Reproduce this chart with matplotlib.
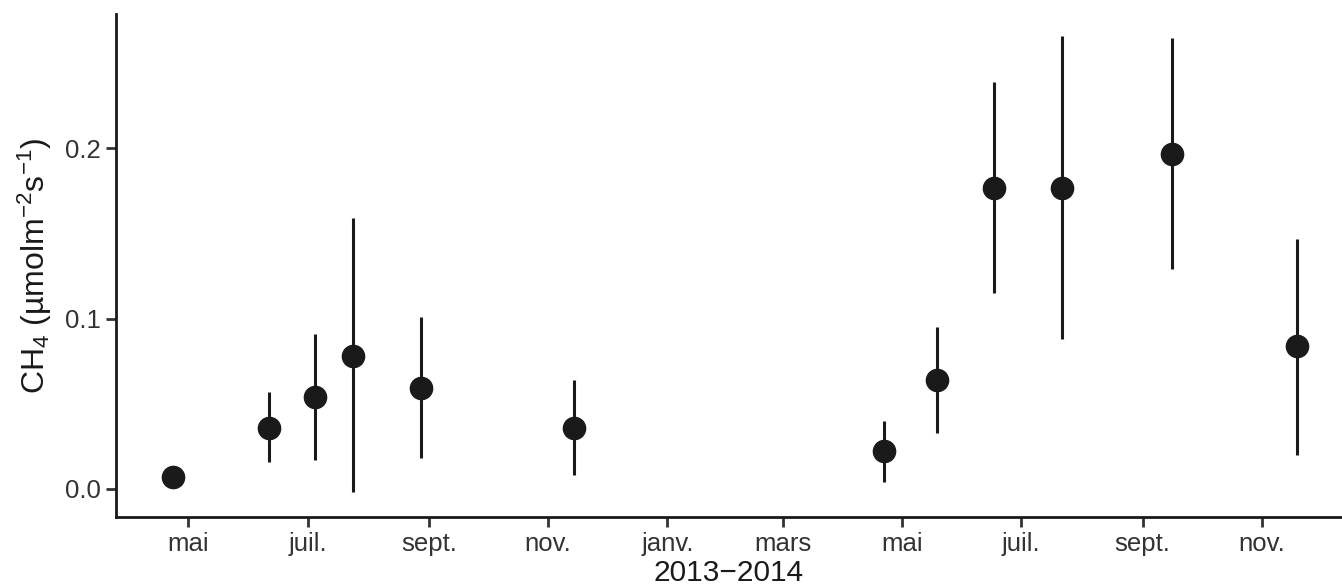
import matplotlib
matplotlib.use("Agg")
import matplotlib.pyplot as plt
import matplotlib.dates as mdates
import pandas as pd

# sampling dates and CH4 flux (mean with lower/upper bounds)
dates = ['2013-04-23', '2013-06-11', '2013-07-05', '2013-07-24', '2013-08-28',
         '2013-11-14', '2014-04-22', '2014-05-19', '2014-06-17', '2014-07-22',
         '2014-09-16', '2014-11-19']
ch4 = [0.007, 0.036, 0.054, 0.078, 0.059, 0.036, 0.022, 0.064, 0.177, 0.177, 0.197, 0.084]
ch4_low = [0.001, 0.016, 0.017, -0.002, 0.018, 0.008, 0.004, 0.033, 0.115, 0.088, 0.129, 0.020]
ch4_high = [0.013, 0.057, 0.091, 0.159, 0.101, 0.064, 0.040, 0.095, 0.239, 0.266, 0.265, 0.147]

mois = {1: 'janv.', 3: 'mars', 5: 'mai', 7: 'juil.', 9: 'sept.', 11: 'nov.'}

plt.rcParams['font.family'] = ['Liberation Sans', 'DejaVu Sans']
plt.rcParams['mathtext.fontset'] = 'custom'
plt.rcParams['mathtext.rm'] = 'Liberation Sans'
plt.rcParams['mathtext.it'] = 'Liberation Sans:italic'

x = pd.to_datetime(dates)
dark = '#1a1a1a'

fig = plt.figure(figsize=(13.42, 5.88), dpi=100)
ax = fig.add_axes([116 / 1342, 1 - 517 / 588, 1 - 116 / 1342, (517 - 14) / 588])

ax.vlines(x, ch4_low, ch4_high, color=dark, linewidth=2.2)
ax.plot(x, ch4, 'o', color=dark, markersize=16, linestyle='none')

ax.set_xlim(pd.Timestamp('2013-03-25'), pd.Timestamp('2014-12-12'))
ax.set_ylim(-0.0165, 0.279)
ax.set_yticks([0.0, 0.1, 0.2])
ax.yaxis.set_major_formatter(plt.FuncFormatter(lambda v, p: f'{v:.1f}'))

ax.xaxis.set_major_locator(mdates.MonthLocator(bymonth=[1, 3, 5, 7, 9, 11]))
ax.xaxis.set_major_formatter(plt.FuncFormatter(lambda v, p: mois[mdates.num2date(v).month]))

for side in ['top', 'right']:
    ax.spines[side].set_visible(False)
for side in ['left', 'bottom']:
    ax.spines[side].set_linewidth(2)
    ax.spines[side].set_color(dark)

ax.tick_params(axis='both', length=7, width=2, color='#333333',
               labelsize=18.5, labelcolor='#333333', pad=4)

ax.set_xlabel('2013\u22122014', fontsize=21.5, color=dark)
ax.xaxis.set_label_coords(0.5, -0.084)
ax.set_ylabel('CH$_4$ (µmolm$^{-2}$s$^{-1}$)', fontsize=23, color=dark, labelpad=8)

fig.savefig('out.png', dpi=100)
